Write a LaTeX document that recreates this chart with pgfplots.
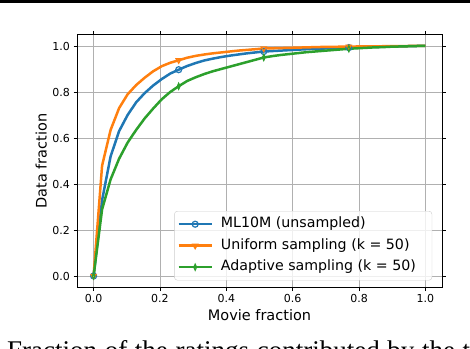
\documentclass[border=0pt]{standalone}
\usepackage{pgfplots}
\pgfplotsset{compat=1.18}
\usepackage{pgfplotstable}
\usepackage{fontspec}
\setmainfont{DejaVu Sans}
\newfontfamily\capfont{Liberation Serif}
\usetikzlibrary{plotmarks}

\definecolor{c0}{HTML}{1F77B4}
\definecolor{c1}{HTML}{FF7F0E}
\definecolor{c2}{HTML}{2CA02C}
\definecolor{gridgray}{HTML}{B0B0B0}
\definecolor{legedge}{HTML}{CCCCCC}

% cumulative data fraction vs movie fraction
\pgfplotstableread{
x       ml     uni    ada
0       0      0      0
0.02564 0.33   0.48   0.29
0.05128 0.52   0.635  0.42
0.07692 0.63   0.73   0.51
0.10256 0.70   0.79   0.58
0.12821 0.755  0.83   0.635
0.15385 0.795  0.862  0.685
0.17949 0.828  0.89   0.728
0.20513 0.856  0.912  0.768
0.23077 0.88   0.927  0.80
0.25641 0.897  0.938  0.825
0.28205 0.913  0.949  0.848
0.30769 0.926  0.957  0.864
0.33333 0.937  0.963  0.878
0.35897 0.945  0.968  0.89
0.38462 0.952  0.972  0.90
0.41026 0.958  0.976  0.91
0.4359  0.963  0.980  0.92
0.46154 0.968  0.983  0.93
0.48718 0.972  0.986  0.94
0.51282 0.976  0.989  0.95
0.53846 0.978  0.990  0.956
0.5641  0.980  0.991  0.961
0.58974 0.982  0.992  0.965
0.61538 0.984  0.993  0.969
0.64103 0.986  0.994  0.973
0.66667 0.988  0.995  0.976
0.69231 0.989  0.996  0.979
0.71795 0.990  0.996  0.982
0.74359 0.991  0.997  0.985
0.76923 0.993  0.997  0.988
0.79487 0.994  0.998  0.990
0.82051 0.995  0.998  0.992
0.84615 0.996  0.998  0.994
0.87179 0.997  0.999  0.995
0.89744 0.998  0.999  0.997
0.92308 0.998  0.999  0.998
0.94872 0.999  1.0    0.999
0.97436 1.0    1.0    1.0
1.0     1.0    1.0    1.0
}\fracdata

\begin{document}
\begin{tikzpicture}
\begin{axis}[
    at={(77pt,60.5pt)}, anchor=south west,
    scale only axis,
    width=365pt, height=253pt,
    xmin=-0.05, xmax=1.05,
    ymin=-0.05, ymax=1.05,
    xtick={0,0.2,0.4,0.6,0.8,1.0},
    ytick={0,0.2,0.4,0.6,0.8,1.0},
    /pgf/number format/assume math mode=true,
    xticklabel style={/pgf/number format/.cd, fixed, fixed zerofill, precision=1},
    yticklabel style={/pgf/number format/.cd, fixed, fixed zerofill, precision=1},
    ticklabel style={font=\fontsize{11}{13}\selectfont},
    tick align=outside,
    major tick length=3.5pt,
    tick style={black, line width=0.8pt},
    axis line style={black, line width=0.8pt},
    grid=major,
    major grid style={gridgray, line width=0.9pt},
    xlabel={Movie fraction},
    ylabel={Data fraction},
    every axis x label/.style={at={(axis description cs:0.5,-0.131)}, anchor=base,
        font=\fontsize{14.5}{17}\selectfont},
    every axis y label/.style={at={(axis description cs:-0.083,0.5)}, rotate=90, anchor=base,
        font=\fontsize{14.5}{17}\selectfont},
    legend style={
        at={(0.973,0.028)}, anchor=south east,
        draw=legedge, rounded corners=3pt,
        fill=white, fill opacity=0.8, text opacity=1,
        font=\fontsize{14.2}{17}\selectfont,
        inner xsep=3pt, inner ysep=4pt,
        row sep=3.5pt,
        nodes={text height=10.5pt, text depth=3.5pt, inner ysep=2pt, inner xsep=2pt},
        /tikz/every odd column/.append style={column sep=6pt},
    },
    legend cell align=left,
    legend image code/.code={
        \draw[mark repeat=2, mark phase=2, #1]
            plot coordinates {(0pt,0pt) (16.5pt,0pt) (33pt,0pt)};
    },
    every axis plot/.append style={line width=2.5pt, mark size=3pt, mark repeat=10},
]
\addplot[c0, mark=o, mark options={line width=1.2pt}] table[x=x, y=ml] {\fracdata};
\addplot[c1, mark=triangle, mark options={rotate=180, line width=1.2pt}] table[x=x, y=uni] {\fracdata};
\addplot[c2, mark=diamond, mark options={xscale=0.6, line width=1.2pt}] table[x=x, y=ada] {\fracdata};
\legend{ML10M (unsampled)\hspace*{11pt}, Uniform sampling (k = 50)\hspace*{11pt}, Adaptive sampling (k = 50)\hspace*{11pt}}
\end{axis}
% rule above and the cut caption below, as in the page
\draw[black, line width=2.6pt] (0pt,346.7pt) -- (470pt,346.7pt);
\node[anchor=base west, inner sep=0pt] at (7pt,-11pt)
    {\capfont\fontsize{27}{30}\selectfont\makebox[463pt][s]{Fraction of the ratings contributed by the t}};
\pgfresetboundingbox
\useasboundingbox (0pt,0pt) rectangle (470pt,348pt);
\end{tikzpicture}
\end{document}
